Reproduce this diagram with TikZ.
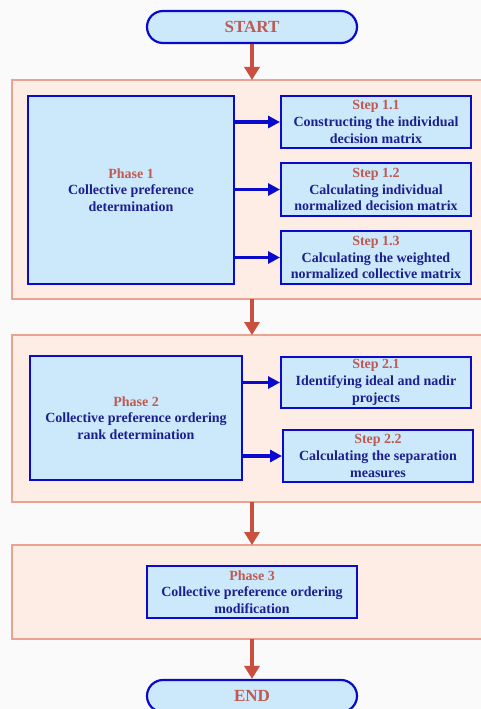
\documentclass[tikz,border=0pt]{standalone}
\usepackage{fontspec}
\setmainfont{Liberation Serif}
\usetikzlibrary{arrows.meta}
\definecolor{bgc}{HTML}{FAFAFA}
\definecolor{framefill}{HTML}{FDEDE4}
\definecolor{framedraw}{HTML}{E9A393}
\definecolor{boxfill}{HTML}{CCE9FB}
\definecolor{boxdraw}{HTML}{0A0ACC}
\definecolor{txt}{HTML}{1C1F8F}
\definecolor{steptxt}{HTML}{BE5A52}
\definecolor{redarrow}{HTML}{C9503F}
\tikzset{
  frame/.style={draw=framedraw, fill=framefill, line width=1.2pt},
  bluebox/.style={draw=boxdraw, fill=boxfill, line width=2pt, align=center,
    inner sep=0pt, font=\bfseries\fontsize{14}{16.7}\selectfont, text=txt},
  terminal/.style={draw=boxdraw, fill=boxfill, line width=2.2pt, rounded corners=16pt,
    inner sep=0pt, font=\bfseries\fontsize{17}{19}\selectfont, text=steptxt,
    minimum width=210pt, minimum height=32pt},
  redarr/.style={draw=redarrow, line width=4pt, -{Triangle[length=13pt,width=15pt]}},
  bluearr/.style={draw=boxdraw, line width=3.2pt, -{Triangle[length=12pt,width=12pt]}},
}
\newcommand{\steplbl}[1]{\textcolor{steptxt}{#1}}
\begin{document}
\begin{tikzpicture}[x=1pt,y=1pt]
\useasboundingbox (0,0) rectangle (481,-709);
\clip (0,0) rectangle (481,-709);
\fill[bgc] (0,0) rectangle (481,-709);
% frames
\path[frame] (12,-80) rectangle (492,-299);
\coordinate (f1n) at (252,-80);
\coordinate (f1s) at (252,-299);
\path[frame] (12,-335) rectangle (492,-502);
\coordinate (f2n) at (252,-335);
\coordinate (f2s) at (252,-502);
\path[frame] (12,-545) rectangle (492,-639);
\coordinate (f3n) at (252,-545);
\coordinate (f3s) at (252,-639);
% terminals
\node[terminal] (start) at (252,-27) {START};
\node[terminal] (end) at (252,-696) {END};
% phase 1
\node[bluebox, minimum width=206pt, minimum height=188pt] (p1) at (131,-190)
  {\steplbl{Phase 1}\\Collective preference\\determination};
\node[bluebox, minimum width=190pt, minimum height=52pt] (s11) at (376,-122)
  {\steplbl{Step 1.1}\\Constructing the individual\\decision matrix};
\node[bluebox, minimum width=190pt, minimum height=53pt] (s12) at (376,-189.5)
  {\steplbl{Step 1.2}\\Calculating individual\\normalized decision matrix};
\node[bluebox, minimum width=190pt, minimum height=53pt] (s13) at (376,-257.5)
  {\steplbl{Step 1.3}\\Calculating the weighted\\normalized collective matrix};
% phase 2
\node[bluebox, minimum width=212pt, minimum height=124pt] (p2) at (136,-418)
  {\steplbl{Phase 2}\\Collective preference ordering\\rank determination};
\node[bluebox, minimum width=190pt, minimum height=51pt] (s21) at (376,-382.5)
  {\steplbl{Step 2.1}\\Identifying ideal and nadir\\projects};
\node[bluebox, minimum width=190pt, minimum height=52pt] (s22) at (378,-456)
  {\steplbl{Step 2.2}\\Calculating the separation\\measures};
% phase 3
\node[bluebox, minimum width=210pt, minimum height=52pt] (p3) at (252,-592)
  {\steplbl{Phase 3}\\Collective preference ordering\\modification};
% blue arrows
\draw[bluearr] (s11.west -| p1.east) -- (s11.west);
\draw[bluearr] (s12.west -| p1.east) -- (s12.west);
\draw[bluearr] (s13.west -| p1.east) -- (s13.west);
\draw[bluearr] (s21.west -| p2.east) -- (s21.west);
\draw[bluearr] (s22.west -| p2.east) -- (s22.west);
% red arrows
\draw[redarr] (start.south) -- (f1n);
\draw[redarr] (f1s) -- (f2n);
\draw[redarr] (f2s) -- (f3n);
\draw[redarr] (f3s) -- (end.north);
\end{tikzpicture}
\end{document}
